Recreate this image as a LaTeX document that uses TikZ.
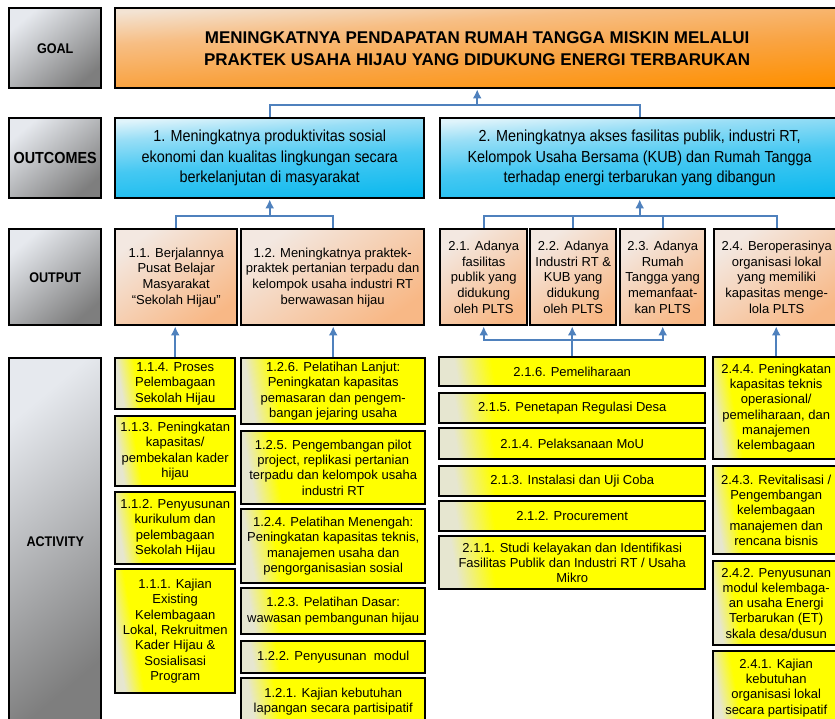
\documentclass[tikz,border=0pt]{standalone}
\usepackage{fontspec}
\setmainfont{Liberation Sans}
\newfontfamily\narrowsf[FakeStretch=0.9]{Liberation Sans}
\usetikzlibrary{arrows.meta,calc}

\definecolor{lblL}{HTML}{E6E9EE}
\definecolor{lblD}{HTML}{7E7E7E}
\definecolor{goalL}{HTML}{F3E3D3}
\definecolor{goalS}{HTML}{F7BE84}
\definecolor{goalM}{HTML}{F9A444}
\definecolor{goalD}{HTML}{FF9000}
\definecolor{outcL}{HTML}{E0F4FB}
\definecolor{outcS}{HTML}{98DEF6}
\definecolor{outcM}{HTML}{45C8F2}
\definecolor{outcD}{HTML}{0CB9EE}
\definecolor{outpL}{HTML}{F3E8E1}
\definecolor{outpD}{HTML}{F8B886}
\definecolor{actL}{HTML}{E6E6D0}
\definecolor{actY}{HTML}{FFFF00}
\definecolor{linkc}{HTML}{4F81BD}

\pgfdeclareverticalshading{goalshade}{100bp}{color(0bp)=(goalD); color(25bp)=(goalD);
  color(45bp)=(goalM); color(62bp)=(goalS); color(75bp)=(goalL); color(100bp)=(goalL)}
\pgfdeclareverticalshading{outcshade}{100bp}{color(0bp)=(outcD); color(25bp)=(outcD);
  color(48bp)=(outcM); color(65bp)=(outcS); color(75bp)=(outcL); color(100bp)=(outcL)}
\pgfdeclarehorizontalshading{actshade}{100bp}{color(0bp)=(actL); color(25bp)=(actL);
  color(33bp)=(actY); color(100bp)=(actY)}

\tikzset{
  box/.style  = {draw=black, line width=2.4pt, rectangle, align=center,
                 inner sep=2pt, anchor=north west},
  wh/.style 2 args = {minimum width=#1pt, minimum height=#2pt},
  lbl/.style  = {box, top color=lblL, bottom color=lblD, shading angle=40,
                 font=\narrowsf\bfseries\fontsize{14}{16}\selectfont},
  goalbox/.style = {box, shade, shading=goalshade, shading angle=4,
                 font=\bfseries\fontsize{17}{22}\selectfont},
  outc/.style = {box, shade, shading=outcshade, shading angle=4,
                 font=\narrowsf\fontsize{16}{20.5}\selectfont},
  outp/.style = {box, top color=outpL, bottom color=outpD, shading angle=35,
                 font=\fontsize{13}{15.7}\selectfont},
  act/.style  = {box, shade, shading=actshade, shading angle=10,
                 font=\fontsize{13}{15.3}\selectfont},
  link/.style = {draw=linkc, line width=2pt},
  ar/.style   = {link, -{Latex[length=9pt,width=9pt]}},
}

\begin{document}
\begin{tikzpicture}[x=1pt, y=-1pt]
\useasboundingbox (0,0) rectangle (835,719);

%% ---- row labels ------------------------------------------------------
\node[lbl, wh={92}{80}]  (gl) at (8,7)   {GOAL};
\node[lbl, wh={92}{80}, font=\narrowsf\bfseries\fontsize{16}{18}\selectfont]
  (ol) at (8,117) {OUTCOMES};
\node[lbl, wh={92}{96}]  (pl) at (8,228) {OUTPUT};
\node[lbl, wh={92}{366}] (al) at (8,357) {ACTIVITY};

%% ---- goal ------------------------------------------------------------
\node[goalbox, wh={724}{80}] (goal) at (114,7)
  {MENINGKATNYA PENDAPATAN RUMAH TANGGA MISKIN MELALUI\\
   PRAKTEK USAHA HIJAU YANG DIDUKUNG ENERGI TERBARUKAN};

%% ---- outcomes --------------------------------------------------------
\node[outc, wh={309}{80}] (O1) at (114,117)
  {1. Meningkatnya produktivitas sosial\\
   ekonomi dan kualitas lingkungan secara\\
   berkelanjutan di masyarakat};
\node[outc, wh={399}{80}] (O2) at (439,117)
  {2. Meningkatnya akses fasilitas publik, industri RT,\\
   Kelompok Usaha Bersama (KUB) dan Rumah Tangga\\
   terhadap energi terbarukan yang dibangun};

%% ---- outputs ---------------------------------------------------------
\node[outp, wh={122}{96}] (o11) at (114,228)
  {1.1. Berjalannya\\Pusat Belajar\\Masyarakat\\“Sekolah Hijau”};
\node[outp, wh={183}{96}] (o12) at (240,228)
  {1.2. Meningkatnya praktek-\\praktek pertanian terpadu dan\\
   kelompok usaha industri RT\\berwawasan hijau};
\node[outp, wh={87}{96}] (o21) at (439,228)
  {2.1. Adanya\\fasilitas\\publik yang\\didukung\\oleh PLTS};
\node[outp, wh={86}{96}] (o22) at (529,228)
  {2.2. Adanya\\Industri RT \&\\KUB yang\\didukung\\oleh PLTS};
\node[outp, wh={85}{96}] (o23) at (619,228)
  {2.3. Adanya\\Rumah\\Tangga yang\\memanfaat-\\kan PLTS};
\node[outp, wh={125}{96}] (o24) at (713,228)
  {2.4. Beroperasinya\\organisasi lokal\\yang memiliki\\kapasitas menge-\\lola PLTS};

%% ---- activities 1.1 --------------------------------------------------
\node[act, wh={120}{51}]  (a114) at (114,357)
  {1.1.4. Proses\\Pelembagaan\\Sekolah Hijau};
\node[act, wh={120}{70}]  (a113) at (114,415)
  {1.1.3. Peningkatan\\kapasitas/\\pembekalan kader\\hijau};
\node[act, wh={120}{72}]  (a112) at (114,491)
  {1.1.2. Penyusunan\\kurikulum dan\\pelembagaan\\Sekolah Hijau};
\node[act, wh={120}{124}] (a111) at (114,568)
  {1.1.1. Kajian\\Existing\\Kelembagaan\\Lokal, Rekruitmen\\Kader Hijau \&\\
   Sosialisasi\\Program};

%% ---- activities 1.2 --------------------------------------------------
\node[act, wh={184}{66}] (a126) at (240,357)
  {1.2.6. Pelatihan Lanjut:\\Peningkatan kapasitas\\pemasaran dan pengem-\\
   bangan jejaring usaha};
\node[act, wh={184}{73}] (a125) at (240,430)
  {1.2.5. Pengembangan pilot\\project, replikasi pertanian\\
   terpadu dan kelompok usaha\\industri RT};
\node[act, wh={184}{74}] (a124) at (240,508)
  {1.2.4. Pelatihan Menengah:\\Peningkatan kapasitas teknis,\\
   manajemen usaha dan\\pengorganisasian sosial};
\node[act, wh={184}{46}] (a123) at (240,587)
  {1.2.3. Pelatihan Dasar:\\wawasan pembangunan hijau};
\node[act, wh={184}{32}] (a122) at (240,640) {1.2.2. Penyusunan\ \ modul};
\node[act, wh={184}{47}] (a121) at (240,677)
  {1.2.1. Kajian kebutuhan\\lapangan secara partisipatif};

%% ---- activities 2.1 --------------------------------------------------
\node[act, wh={266}{29}] (a216) at (438,356) {2.1.6. Pemeliharaan};
\node[act, wh={266}{30}] (a215) at (438,392) {2.1.5. Penetapan Regulasi Desa};
\node[act, wh={266}{31}] (a214) at (438,427) {2.1.4. Pelaksanaan MoU};
\node[act, wh={266}{30}] (a213) at (438,465) {2.1.3. Instalasi dan Uji Coba};
\node[act, wh={266}{30}] (a212) at (438,500) {2.1.2. Procurement};
\node[act, wh={266}{53}] (a211) at (438,535)
  {2.1.1. Studi kelayakan dan Identifikasi\\
   Fasilitas Publik dan Industri RT / Usaha\\Mikro};

%% ---- activities 2.4 --------------------------------------------------
\node[act, wh={126}{102}] (a244) at (712,356)
  {2.4.4. Peningkatan\\kapasitas teknis\\operasional/\\pemeliharaan, dan\\
   manajemen\\kelembagaan};
\node[act, wh={126}{88}] (a243) at (712,465)
  {2.4.3. Revitalisasi /\\Pengembangan\\kelembagaan\\manajemen dan\\
   rencana bisnis};
\node[act, wh={126}{84}] (a242) at (712,560)
  {2.4.2. Penyusunan\\modul kelembaga-\\an usaha Energi\\Terbarukan (ET)\\
   skala desa/dusun};
\node[act, wh={126}{73}] (a241) at (712,650)
  {2.4.1. Kajian\\kebutuhan\\organisasi lokal\\secara partisipatif};

%% ---- connectors ------------------------------------------------------
\coordinate (jg) at ($(goal.south)+(0,16)$);
\draw[link] (O1.north) |- (jg) -| (O2.north);
\draw[ar] (jg) -- (goal.south);

\coordinate (j1) at ($(O1.south)+(0,17)$);
\draw[link] (o11.north) |- (j1) -| (o12.north);
\draw[ar] (j1) -- (O1.south);

\coordinate (j2) at ($(O2.south)+(0,17)$);
\draw[link] (o21.north) |- (j2) -| (o24.north);
\draw[link] (o22.north) -- (o22.north |- j2);
\draw[link] (o23.north) -- (o23.north |- j2);
\draw[ar] (j2) -- (O2.south);

\draw[ar] (a114.north) -- (a114.north |- o11.south);
\draw[ar] (a126.north) -- (a126.north |- o12.south);
\draw[ar] (a244.north) -- (a244.north |- o24.south);

%% 2.1.6 feeds the first three outputs of outcome 2
\coordinate (j3) at ($(a216.north)+(0,-16)$);
\draw[ar] (a216.north) -- (a216.north |- o22.south);
\draw[ar] (j3) -| (o21.south);
\draw[ar] (j3) -| (o23.south);
\end{tikzpicture}
\end{document}
